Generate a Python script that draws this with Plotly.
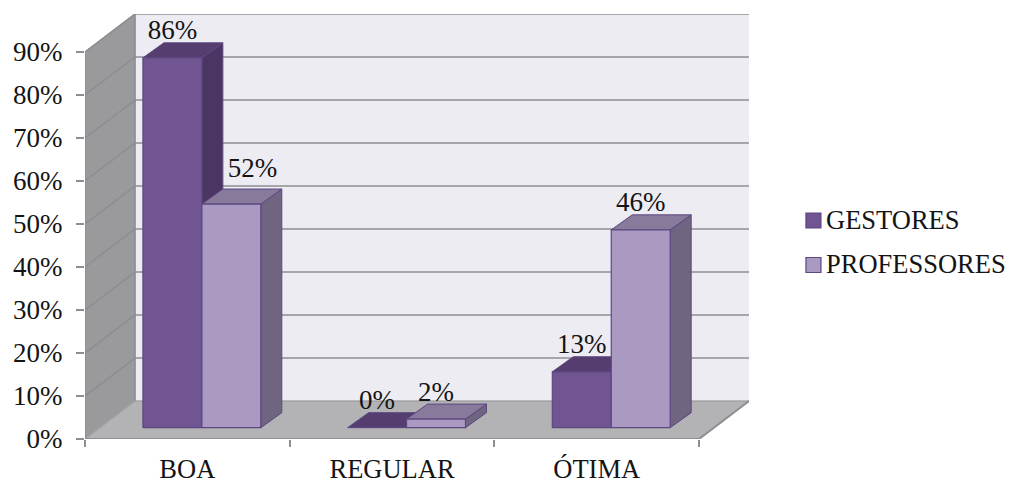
import plotly.graph_objects as go

# Survey results per category, in percent
categories = ["BOA", "REGULAR", "ÓTIMA"]
series_names = ["GESTORES", "PROFESSORES"]
gestores = [86, 0, 13]
professores = [52, 2, 46]
y_ticks = [0, 10, 20, 30, 40, 50, 60, 70, 80, 90]

# Palette: (front, top, side) per series
SHADES = [("#705592", "#553d70", "#4b3663"), ("#aa9ac2", "#877a9b", "#6f6581")]
EDGE = "#5c4780"
WALL, SIDE_WALL, FLOOR, GRID = "#eeecf3", "#9a9a9c", "#b3b3b5", "#8e8e92"
FONT = dict(family="Liberation Serif", size=27, color="#141414")
NAME_FONT = dict(family="Liberation Serif", size=26.5, color="#141414")

# Oblique projection of the box, in axis units
WALL_DX, WALL_DY = 0.244, 8.82
BAR_DX, BAR_DY = 0.1025, 3.49
BAR_INSET, BAR_WIDTH, BAR_LIFT = 0.283, 0.288, 2.63
LABEL_RISE = 5.85
LABEL_NUDGE = {(0, 1): (0.103, 2.05)}  # the 52% label sits beside its column

fig = go.Figure()


def polygon(xs, ys, fill, line=None, width=1):
    fig.add_trace(go.Scatter(
        x=xs + xs[:1], y=ys + ys[:1], mode="lines", fill="toself", fillcolor=fill,
        line=dict(color=line or fill, width=width), hoverinfo="skip", showlegend=False,
    ))


def polyline(xs, ys, color, width):
    fig.add_trace(go.Scatter(
        x=xs, y=ys, mode="lines", line=dict(color=color, width=width),
        hoverinfo="skip", showlegend=False,
    ))


n = len(categories)
top = y_ticks[-1]

# Box: back wall, side wall, floor
polygon([WALL_DX, n + WALL_DX, n + WALL_DX, WALL_DX],
        [WALL_DY, WALL_DY, top + WALL_DY, top + WALL_DY], WALL)
polygon([0, WALL_DX, WALL_DX, 0], [0, WALL_DY, top + WALL_DY, top], SIDE_WALL)
polygon([0, WALL_DX, n + WALL_DX, n], [0, WALL_DY, WALL_DY, 0], FLOOR)

# Gridlines wrap from the side wall onto the back wall
for v in y_ticks[1:]:
    polyline([0, WALL_DX, n + WALL_DX], [v, v + WALL_DY, v + WALL_DY], GRID, 1.6)
polyline([WALL_DX, WALL_DX], [WALL_DY, top + WALL_DY], GRID, 1.6)
polyline([0, WALL_DX, n + WALL_DX], [0, WALL_DY, WALL_DY], "#a0a0a2", 1.2)
polyline([0, 0], [0, top], GRID, 1.6)
polyline([0, n, n + WALL_DX], [0, 0, WALL_DY], GRID, 2)

# Columns, painted back to front
label_x, label_y, label_text = [], [], []
for c in range(n):
    for s, values in enumerate((gestores, professores)):
        v = values[c]
        x0 = c + BAR_INSET + s * BAR_WIDTH
        x1 = x0 + BAR_WIDTH
        y0 = BAR_LIFT
        y1 = BAR_LIFT + v
        front, roof, side = SHADES[s]
        polygon([x1, x1 + BAR_DX, x1 + BAR_DX, x1],
                [y0, y0 + BAR_DY, y1 + BAR_DY, y1], side, EDGE)
        polygon([x0, x1, x1 + BAR_DX, x0 + BAR_DX],
                [y1, y1, y1 + BAR_DY, y1 + BAR_DY], roof, EDGE)
        if v > 0:
            polygon([x0, x1, x1, x0], [y0, y0, y1, y1], front, EDGE, 1.2)
        nudge_x, nudge_y = LABEL_NUDGE.get((c, s), (0, 0))
        label_x.append((x0 + x1) / 2 + nudge_x)
        label_y.append(y1 + LABEL_RISE + nudge_y)
        label_text.append(f"{v}%")

# Value labels
fig.add_trace(go.Scatter(
    x=label_x, y=label_y, text=label_text, mode="text", textposition="middle center",
    textfont=FONT, hoverinfo="skip", showlegend=False, cliponaxis=False,
))


def x_paper(px):
    return (px - 84.5) / 664.5


def y_paper(px):
    return (439 - px) / 425


# Legend: swatch and name per series, placed to the right of the plot
for name, shade, y_mid, y_text in zip(series_names, SHADES, (220.5, 265), (220, 264)):
    fig.add_shape(type="rect", xref="paper", yref="paper",
                  x0=x_paper(806), x1=x_paper(821), y0=y_paper(y_mid - 7.5), y1=y_paper(y_mid + 7.5),
                  fillcolor=shade[0], line=dict(color=EDGE, width=1.2))
    fig.add_annotation(text=name, xref="paper", yref="paper", x=x_paper(824), y=y_paper(y_text),
                       xanchor="left", yanchor="middle", showarrow=False, font=NAME_FONT)

fig.update_layout(
    width=1013, height=484, autosize=False,
    margin=dict(l=84.5, r=264, t=14, b=45, autoexpand=False),
    paper_bgcolor="white", plot_bgcolor="white",
    showlegend=False, font=FONT,
    xaxis=dict(
        range=[0, n + WALL_DX], showgrid=False, zeroline=False, showline=False, automargin=False,
        tickmode="array", tickvals=[i + 0.5 for i in range(n)], ticktext=categories,
        ticks="outside", ticklen=0, ticklabelstandoff=6, tickfont=NAME_FONT,
        minor=dict(tickmode="array", tickvals=list(range(n + 1)), ticks="outside",
                   ticklen=7, tickcolor=GRID, tickwidth=1.6, showgrid=False),
    ),
    yaxis=dict(
        range=[0, top + WALL_DY], showgrid=False, zeroline=False, showline=False, automargin=False,
        tickmode="array", tickvals=y_ticks, ticktext=[f"{v}%" for v in y_ticks],
        ticks="outside", ticklen=8, tickcolor=GRID, tickwidth=1.6,
        ticklabelstandoff=8, tickfont=FONT,
    ),
)

fig.write_html("out.html")
